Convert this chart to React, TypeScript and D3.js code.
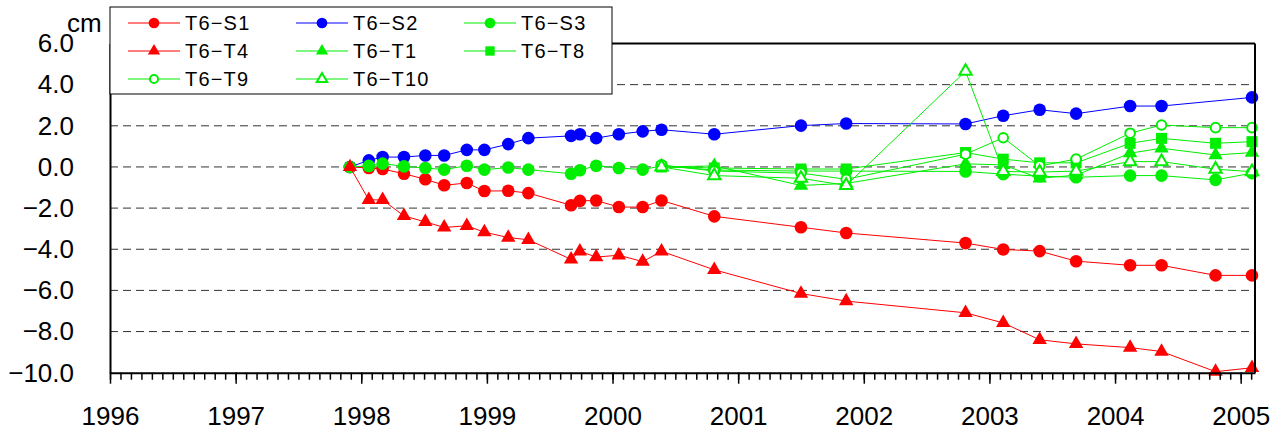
import React, { useEffect, useRef } from "react";
import * as d3 from "d3";

// survey dates (decimal years) shared by S1, S2, S3, T4
const dates = [
  1997.91, 1998.06, 1998.17, 1998.34, 1998.51, 1998.66, 1998.84, 1998.98, 1999.17, 1999.33,
  1999.67, 1999.74, 1999.87, 2000.05, 2000.24, 2000.39, 2000.81, 2001.5, 2001.86, 2002.81,
  2003.11, 2003.4, 2003.69, 2004.12, 2004.37, 2004.8, 2005.09,
];
// T1, T8, T9, T10 start later
const tDates = [2000.39, 2000.81, 2001.5, 2001.86, 2002.81, 2003.11, 2003.4, 2003.69, 2004.12, 2004.37, 2004.8, 2005.09];

const s1 = [0, -0.05, -0.1, -0.33, -0.6, -0.89, -0.78, -1.17, -1.16, -1.27, -1.86, -1.65, -1.63, -1.95, -1.95, -1.63, -2.4, -2.93, -3.21, -3.7, -4.01, -4.09, -4.58, -4.78, -4.78, -5.27, -5.27];
const s2 = [0, 0.32, 0.48, 0.48, 0.56, 0.56, 0.83, 0.83, 1.11, 1.4, 1.51, 1.59, 1.4, 1.59, 1.73, 1.81, 1.59, 2.01, 2.11, 2.09, 2.49, 2.78, 2.59, 2.96, 2.96, null, 3.38];
const s3 = [0, 0.05, 0.16, 0.03, -0.05, -0.13, 0.06, -0.13, -0.03, -0.13, -0.33, -0.16, 0.06, -0.05, -0.13, 0.05, -0.15, -0.2, -0.2, -0.22, -0.35, -0.45, -0.5, -0.42, -0.42, -0.63, -0.3];
const t4 = [0, -1.6, -1.6, -2.38, -2.67, -2.94, -2.86, -3.17, -3.43, -3.54, -4.49, -4.1, -4.38, -4.29, -4.6, -4.1, -5.0, -6.15, -6.52, -7.09, -7.58, -8.4, -8.6, -8.78, -8.97, -9.95, -9.76];
const t1 = [0, 0.05, -0.9, -0.8, 0.15, 0.1, -0.55, -0.4, 0.67, 0.91, 0.58, 0.7];
const t8 = [0, -0.05, -0.1, -0.1, 0.7, 0.38, 0.2, 0.2, 1.15, 1.39, 1.15, 1.23];
const t9 = [0.1, -0.2, -0.3, -0.6, 0.62, 1.42, 0.05, 0.38, 1.64, 2.04, 1.91, 1.91];
const t10 = [0, -0.42, -0.55, -0.9, 4.65, -0.22, -0.25, -0.2, 0.26, 0.26, -0.11, -0.23];

const years = [1996, 1997, 1998, 1999, 2000, 2001, 2002, 2003, 2004, 2005];
const yTicks = [-10, -8, -6, -4, -2, 0, 2, 4, 6];

type Marker = "circle" | "triangle" | "square" | "openCircle" | "openTriangle";

const series: { name: string; color: string; marker: Marker; t: number[]; v: (number | null)[] }[] = [
  { name: "T6−S1", color: "#ff0000", marker: "circle", t: dates, v: s1 },
  { name: "T6−S2", color: "#0000ff", marker: "circle", t: dates, v: s2 },
  { name: "T6−S3", color: "#00ee00", marker: "circle", t: dates, v: s3 },
  { name: "T6−T4", color: "#ff0000", marker: "triangle", t: dates, v: t4 },
  { name: "T6−T1", color: "#00ee00", marker: "triangle", t: tDates, v: t1 },
  { name: "T6−T8", color: "#00ee00", marker: "square", t: tDates, v: t8 },
  { name: "T6−T9", color: "#00ee00", marker: "openCircle", t: tDates, v: t9 },
  { name: "T6−T10", color: "#00ee00", marker: "openTriangle", t: tDates, v: t10 },
];

const FONT = "'Liberation Sans', Arial, sans-serif";

function drawMarker(g: d3.Selection<SVGGElement, unknown, null, undefined>, m: Marker, color: string, cx: number, cy: number, scale = 1) {
  if (m === "circle") {
    g.append("circle").attr("cx", cx).attr("cy", cy).attr("r", 6.3 * scale).attr("fill", color);
  } else if (m === "openCircle") {
    g.append("circle").attr("cx", cx).attr("cy", cy).attr("r", 4.8 * scale)
      .attr("fill", "#fff").attr("stroke", color).attr("stroke-width", 2);
  } else if (m === "square") {
    const s = 11 * scale;
    g.append("rect").attr("x", cx - s / 2).attr("y", cy - s / 2).attr("width", s).attr("height", s).attr("fill", color);
  } else if (m === "triangle") {
    g.append("path").attr("transform", `translate(${cx},${cy})`)
      .attr("d", d3.symbol(d3.symbolTriangle, 90 * scale * scale)()).attr("fill", color);
  } else {
    g.append("path").attr("transform", `translate(${cx},${cy})`)
      .attr("d", d3.symbol(d3.symbolTriangle, 66 * scale * scale)())
      .attr("fill", "#fff").attr("stroke", color).attr("stroke-width", 2);
  }
}

export default function App() {
  const ref = useRef<SVGSVGElement>(null);

  useEffect(() => {
    const svg = d3.select(ref.current);
    svg.selectAll("*").remove();

    const left = 110, right = 1255, top = 43.5, bottom = 372.7;
    const x = d3.scaleLinear().domain([1996, 2005.114]).range([left, right]);
    const y = d3.scaleLinear().domain([-10, 6]).range([bottom, top]);

    const g = svg.append("g");

    // dashed gridlines
    g.selectAll("line.grid")
      .data(yTicks.filter((d) => d > -10 && d < 6))
      .enter()
      .append("line")
      .attr("x1", left).attr("x2", right)
      .attr("y1", (d) => y(d)).attr("y2", (d) => y(d))
      .attr("stroke", "#333").attr("stroke-width", 1).attr("stroke-dasharray", "8,5");

    // series lines + markers
    series.forEach((s) => {
      const pts = s.t.map((t, i) => ({ t, v: s.v[i] })).filter((p) => p.v !== null) as { t: number; v: number }[];
      const line = d3.line<{ t: number; v: number }>().x((d) => x(d.t)).y((d) => y(d.v));
      g.append("path").attr("d", line(pts)).attr("fill", "none").attr("stroke", s.color).attr("stroke-width", 1);
      const mg = g.append("g");
      pts.forEach((p) => drawMarker(mg, s.marker, s.color, x(p.t), y(p.v)));
    });

    // frame
    g.append("line").attr("x1", left).attr("x2", right).attr("y1", top).attr("y2", top).attr("stroke", "#000").attr("stroke-width", 2);
    g.append("line").attr("x1", right).attr("x2", right).attr("y1", top).attr("y2", bottom).attr("stroke", "#000").attr("stroke-width", 2);

    // x axis: monthly minor ticks, yearly major ticks
    const months = d3.range(0, 110).map((i) => 1996 + i / 12);
    const xMinor = g.append("g").attr("transform", `translate(0,${bottom})`)
      .call(d3.axisBottom(x).tickValues(months).tickSize(7).tickSizeOuter(0).tickFormat(() => ""));
    xMinor.select(".domain").remove();
    xMinor.selectAll("line").attr("stroke", "#000").attr("stroke-width", 1.5);

    const xAxis = g.append("g").attr("transform", `translate(0,${bottom})`)
      .call(d3.axisBottom(x).tickValues(years).tickSize(11).tickSizeOuter(0).tickPadding(23).tickFormat(d3.format("d")));
    xAxis.select(".domain").attr("stroke", "#000").attr("stroke-width", 2);
    xAxis.selectAll("line").attr("stroke", "#000").attr("stroke-width", 1.5);
    xAxis.selectAll("text").attr("font-size", 26).attr("font-family", FONT).attr("fill", "#000");

    const yAxis = g.append("g").attr("transform", `translate(${left},0)`)
      .call(d3.axisLeft(y).tickValues(yTicks).tickSize(0).tickSizeOuter(0).tickPadding(36).tickFormat(d3.format(".1f")));
    yAxis.select(".domain").attr("stroke", "#000").attr("stroke-width", 2);
    yAxis.selectAll("text").attr("font-size", 26).attr("font-family", FONT).attr("fill", "#000");

    svg.append("text").attr("x", 67).attr("y", 32).text("cm")
      .attr("font-size", 26).attr("font-family", FONT).attr("fill", "#000");

    // legend
    const lg = svg.append("g");
    lg.append("rect").attr("x", 110).attr("y", 7).attr("width", 502).attr("height", 87)
      .attr("fill", "#fff").attr("stroke", "#000").attr("stroke-width", 1);
    const colX = [128, 296, 464];
    const rowY = [23, 51, 79];
    series.forEach((s, i) => {
      const lx = colX[i % 3], ly = rowY[Math.floor(i / 3)];
      lg.append("line").attr("x1", lx).attr("x2", lx + 52).attr("y1", ly).attr("y2", ly)
        .attr("stroke", s.color).attr("stroke-opacity", 0.5).attr("stroke-width", 2);
      drawMarker(lg, s.marker, s.color, lx + 26, ly, 0.85);
      lg.append("text").attr("x", lx + 57).attr("y", ly + 7).text(s.name)
        .attr("font-size", 20).attr("letter-spacing", 1.2).attr("font-family", FONT).attr("fill", "#000");
    });
  }, []);

  return (
    <div style={{ position: "absolute", left: 0, top: 0 }}>
      <svg ref={ref} width={1282} height={432} style={{ display: "block", background: "#fff" }} />
    </div>
  );
}
